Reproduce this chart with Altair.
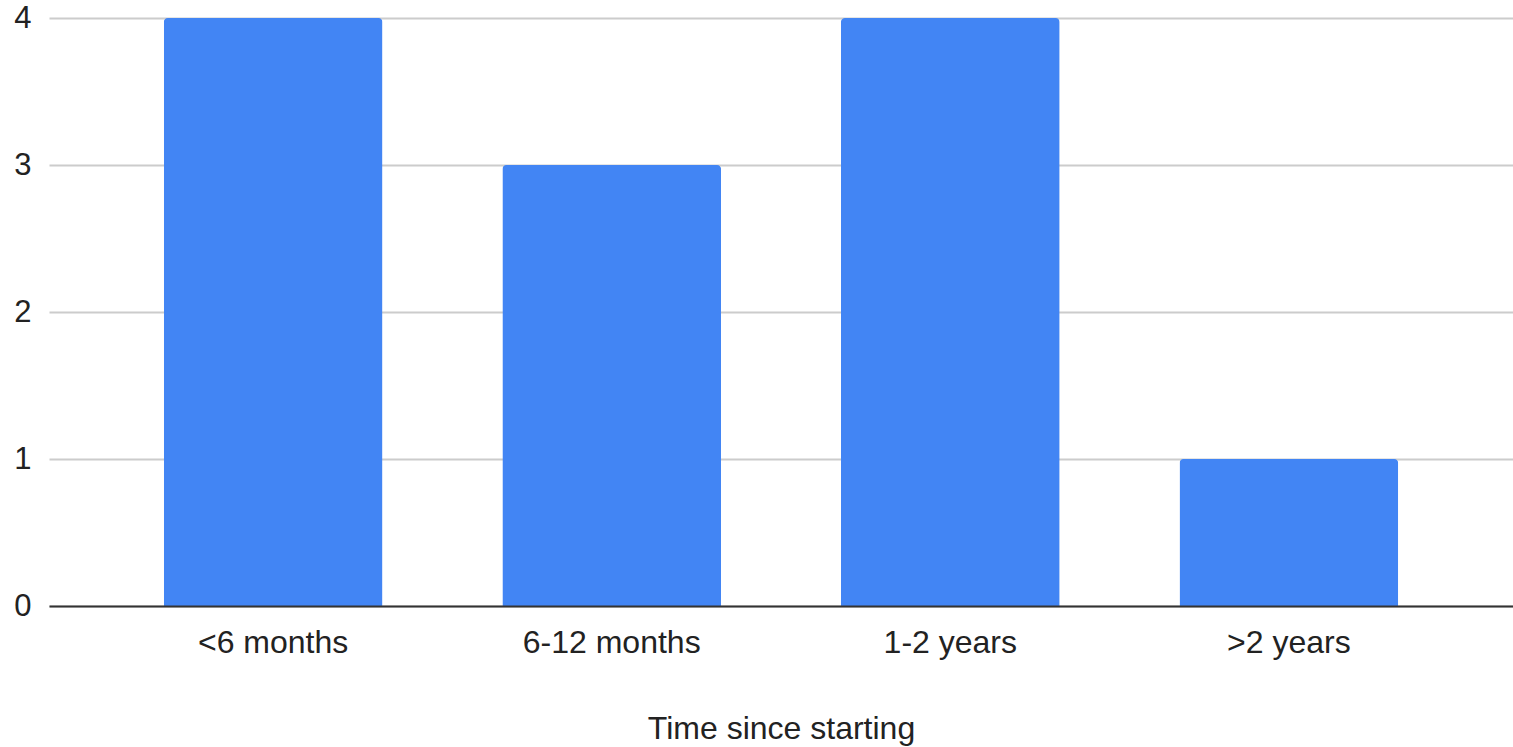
import altair as alt
import pandas as pd

categories = ["<6 months", "6-12 months", "1-2 years", ">2 years"]
counts = [4, 3, 4, 1]

df = pd.DataFrame({"cat": categories, "count": counts})

FONT = "Liberation Sans"

chart = alt.Chart(df).mark_bar(
    color="#4285F4", cornerRadiusTopLeft=4, cornerRadiusTopRight=4
).encode(
    x=alt.X("cat:N", sort=categories, title="Time since starting",
            scale=alt.Scale(paddingInner=0.354, paddingOuter=0.339),
            axis=alt.Axis(labelAngle=0, labelFontSize=32, labelFont=FONT, labelColor="#222",
                          ticks=False, domainColor="#333", domainWidth=2, zindex=2,
                          labelPadding=21, titleFont=FONT, titleFontSize=32,
                          titleFontWeight="normal", titleColor="#222", titlePadding=55)),
    y=alt.Y("count:Q", title=None,
            scale=alt.Scale(domain=[0, 4]),
            axis=alt.Axis(values=[0, 1, 2, 3, 4], format="d", labelFontSize=31, labelFont=FONT,
                          labelColor="#222", ticks=False, domain=False,
                          gridColor="#cccccc", gridWidth=2, labelPadding=18)),
).properties(
    width=1464, height=588,
    padding={"left": 49, "top": 18, "right": 0, "bottom": 141},
    autosize=alt.AutoSizeParams(type="none"),
).configure_view(stroke=None)

chart.save("out.html", embed_options={"renderer": "svg", "actions": False})
